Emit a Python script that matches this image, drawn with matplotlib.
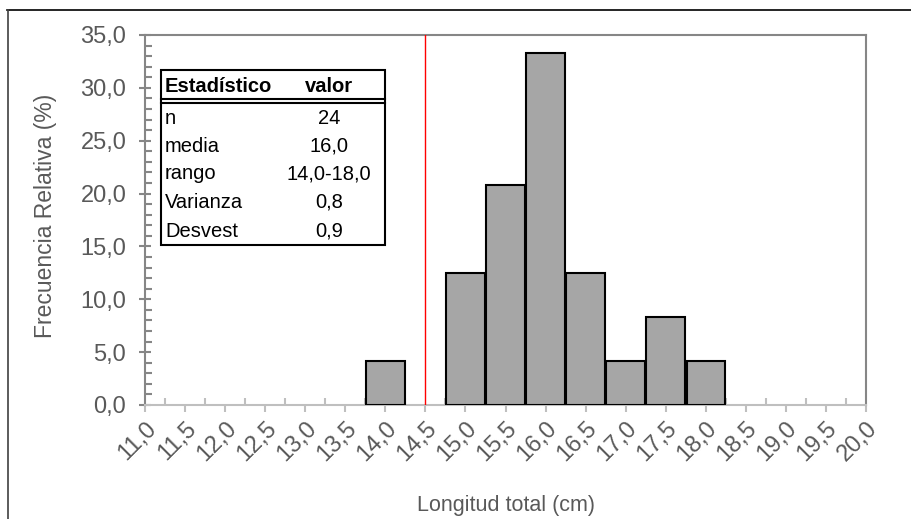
import matplotlib
matplotlib.use("Agg")
import matplotlib.pyplot as plt
from matplotlib.ticker import MultipleLocator, FuncFormatter
from matplotlib.lines import Line2D
from matplotlib.patches import Rectangle

plt.rcParams['font.family'] = ['Liberation Sans', 'DejaVu Sans']

# Data
lengths = [14.0, 15.0, 15.5, 16.0, 16.5, 17.0, 17.5, 18.0]
freq_rel = [4.2, 12.5, 20.8, 33.3, 12.5, 4.2, 8.3, 4.2]
ref_line = 14.5
stat_names = ["n", "media", "rango", "Varianza", "Desvest"]
stat_values = ["24", "16,0", "14,0-18,0", "0,8", "0,9"]
header = ["Estadístico", "valor"]

W, H = 911, 519
fig = plt.figure(figsize=(W / 100, H / 100), dpi=100)
ax = fig.add_axes([145 / W, 1 - 405 / H, (866 - 145) / W, (405 - 35) / H])

ax.bar(lengths, freq_rel, width=0.48, color="#a6a6a6", edgecolor="black",
       linewidth=1.5, zorder=3)
ax.axvline(ref_line, color="#ff0000", linewidth=1.0, zorder=4)

ax.set_xlim(11.0, 20.0)
ax.set_ylim(0, 35)

fmt = FuncFormatter(lambda v, p: f"{v:.1f}".replace(".", ","))
ax.xaxis.set_major_locator(MultipleLocator(0.5))
ax.xaxis.set_minor_locator(MultipleLocator(0.25))
ax.yaxis.set_major_locator(MultipleLocator(5))
ax.yaxis.set_minor_locator(MultipleLocator(1))
ax.xaxis.set_major_formatter(fmt)
ax.yaxis.set_major_formatter(fmt)

grey = "#595959"
ax.tick_params(axis="x", which="major", direction="out", length=5, color="#bfbfbf",
               width=1.5, labelsize=17, labelcolor=grey, pad=4)
ax.tick_params(axis="x", which="minor", direction="in", length=5, color="#bfbfbf", width=1.5)
ax.tick_params(axis="y", which="major", direction="inout", length=9, color="#868686",
               width=1.5, labelsize=17, labelcolor=grey, pad=9)
ax.tick_params(axis="y", which="minor", direction="in", length=5, color="#868686", width=1.5)
for lbl in ax.get_xticklabels():
    lbl.set_rotation(45)
    lbl.set_ha("right")
    lbl.set_va("top")
    lbl.set_rotation_mode("anchor")

ax.spines["left"].set_color("#868686")
ax.spines["left"].set_linewidth(1.5)
ax.spines["bottom"].set_color("#bfbfbf")
ax.spines["bottom"].set_linewidth(1.5)
ax.spines["top"].set_color("#868686")
ax.spines["top"].set_linewidth(1.5)
ax.spines["right"].set_color("#868686")
ax.spines["right"].set_linewidth(1.5)

W_, H_ = W, H


def fx(x):
    return x / W_


def fy(y):
    return 1 - y / H_


fig.text(fx(46), fy(216), "Frecuencia Relativa (%)", fontsize=16.5, color=grey,
         ha="center", va="center", rotation=90)
fig.text(fx(506), fy(506), "Longitud total (cm)", fontsize=15.5, color=grey,
         ha="center", va="center")

# Statistics table (figure pixel coordinates, y from top)
tl, tr, tt, tb = 161, 385, 70, 245
fig.patches.append(Rectangle((fx(tl), fy(tb)), fx(tr - tl), (tb - tt) / H,
                             transform=fig.transFigure, facecolor="white",
                             edgecolor="black", linewidth=1.5, zorder=5))
fig.add_artist(Line2D([fx(tl), fx(tr)], [fy(99), fy(99)], color="black", lw=1.5, zorder=6))
fig.add_artist(Line2D([fx(tl), fx(tr)], [fy(102.5), fy(102.5)], color="black", lw=1.5, zorder=6))
fig.text(fx(165), fy(86), header[0], fontsize=14.5, fontweight="bold", ha="left",
         va="center", zorder=7)
fig.text(fx(329), fy(86), header[1], fontsize=14.5, fontweight="bold", ha="center",
         va="center", zorder=7)
row_y = [118, 146, 174, 202, 231]
for name, val, y in zip(stat_names, stat_values, row_y):
    fig.text(fx(165), fy(y), name, fontsize=14.5, ha="left", va="center", zorder=7)
    fig.text(fx(329), fy(y), val, fontsize=14.5, ha="center", va="center", zorder=7)

# outer chart border (top and left)
fig.add_artist(Line2D([fx(7), fx(911)], [fy(10), fy(10)], color="black", lw=1.2))
fig.add_artist(Line2D([fx(7.5), fx(7.5)], [fy(10), fy(519)], color="#404040", lw=1.2))

fig.savefig("out.png", dpi=100)
